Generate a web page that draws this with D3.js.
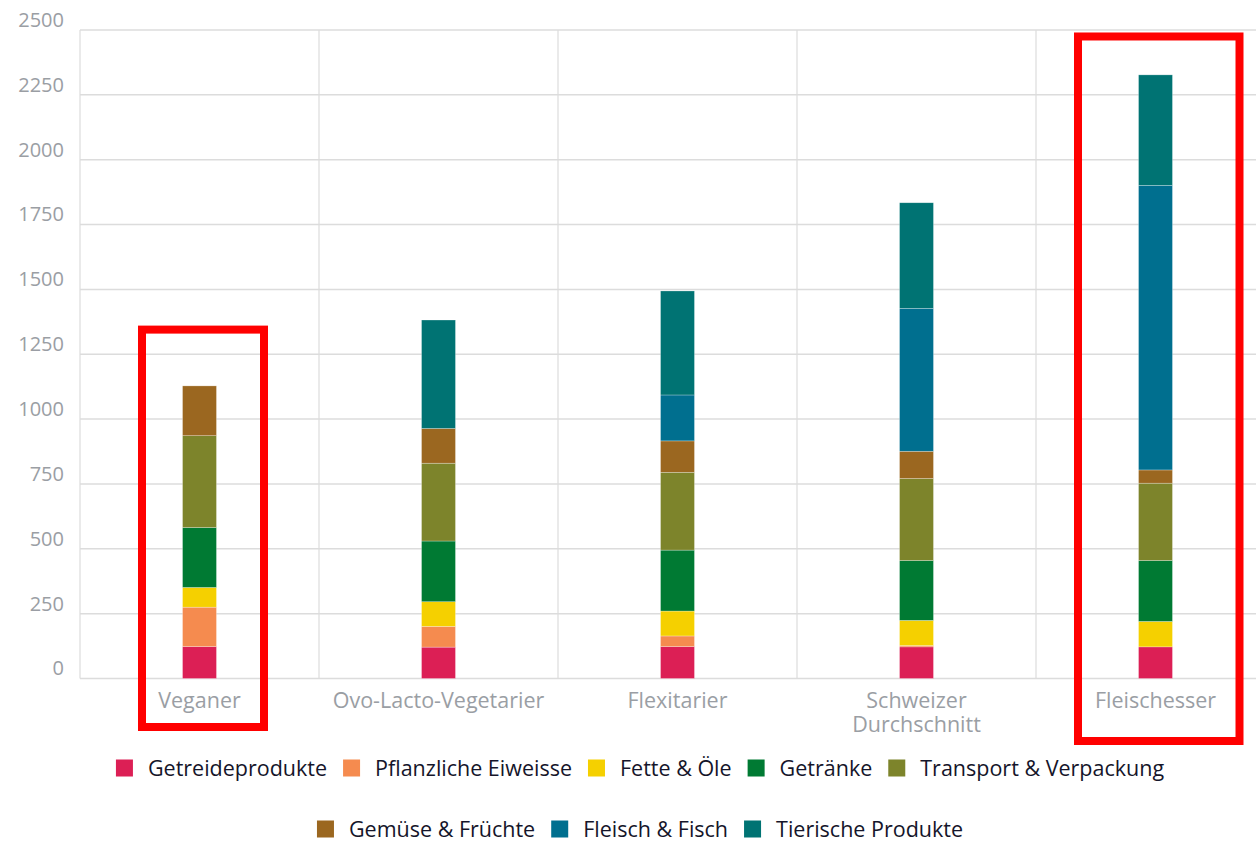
<!DOCTYPE html>
<html>
<head>
<meta charset="utf-8">
<script src="https://cdn.jsdelivr.net/npm/d3@7"></script>
<style>
  body { margin: 0; background: #fff; }
  text { font-family: "Open Sans", sans-serif; }
</style>
</head>
<body>
<script>
var categories  = ['Veganer', 'Ovo-Lacto-Vegetarier', 'Flexitarier', 'Schweizer Durchschnitt', 'Fleischesser'];
var seriesNames = ['Getreideprodukte', 'Pflanzliche Eiweisse', 'Fette & Öle', 'Getränke',
                   'Transport & Verpackung', 'Gemüse & Früchte', 'Fleisch & Fisch', 'Tierische Produkte'];
var colors      = ['#dc1f55', '#f58b4f', '#f5d000', '#007a33', '#7d842b', '#9b6720', '#006f8f', '#007373'];

// one array per series, same order as categories
var getreide    = [123, 121, 123, 122, 122];
var eiweisse    = [152,  80,  41,   5,   0];
var fette       = [ 76,  95,  96,  97,  98];
var getraenke   = [231, 234, 235, 231, 235];
var transport   = [354, 300, 300, 316, 298];
var gemuese     = [192, 134, 121, 105,  51];
var fleisch     = [  0,   0, 177, 551, 1097];
var tierisch    = [  0, 418, 401, 407, 426];
var yTicks      = [0, 250, 500, 750, 1000, 1250, 1500, 1750, 2000, 2250, 2500];

var series = [getreide, eiweisse, fette, getraenke, transport, gemuese, fleisch, tierisch];

var W = 1256, H = 843;
var svg = d3.select('body').append('svg')
            .attr('width', W)
            .attr('height', H);

var plotLeft = 80, plotRight = 1275, plotTop = 30, plotBottom = 678.5;

var x = d3.scaleBand().domain(categories).range([plotLeft, plotRight]).padding(0);
var y = d3.scaleLinear().domain([0, 2500]).range([plotBottom, plotTop]);
var barW = x.bandwidth() * 0.142;

// rows for the stack
var rows = categories.map(function(c, i){
  var r = {cat: c};
  seriesNames.forEach(function(s, j){ r[s] = series[j][i]; });
  return r;
});
var stacked = d3.stack().keys(seriesNames)(rows);

///////////////////////////////////////////////////////////////////////////////
/////////////////////////////      Grid + axis      ///////////////////////////
///////////////////////////////////////////////////////////////////////////////

var grid = svg.append('g');
grid.selectAll('line.h').data(yTicks).enter().append('line')
    .attr('x1', plotLeft).attr('x2', plotRight)
    .attr('y1', function(d){ return y(d); })
    .attr('y2', function(d){ return y(d); })
    .attr('stroke', '#dcdcdc').attr('stroke-width', 1.5);

var vlines = categories.map(function(c){ return x(c); }).concat([plotRight]);
grid.selectAll('line.v').data(vlines).enter().append('line')
    .attr('x1', function(d){ return d; }).attr('x2', function(d){ return d; })
    .attr('y1', plotTop).attr('y2', plotBottom)
    .attr('stroke', '#dcdcdc').attr('stroke-width', 1.2);

var yAxis = svg.append('g')
    .attr('transform', 'translate(' + (plotLeft - 16) + ',-10)')
    .call(d3.axisLeft(y).tickValues(yTicks).tickFormat(d3.format('d')).tickSize(0).tickPadding(0));
yAxis.select('.domain').remove();
yAxis.selectAll('text')
     .attr('fill', '#9a9ea4')
     .style('font-size', '20px')
     .style('font-family', '"Open Sans", sans-serif');

// category labels
var xl = svg.append('g').selectAll('text').data(categories).enter().append('text')
    .attr('x', function(d){ return x(d) + x.bandwidth() / 2; })
    .attr('y', 708)
    .attr('text-anchor', 'middle')
    .attr('fill', '#9a9ea4')
    .style('font-size', '21.5px');
xl.each(function(d){
  var words = d === 'Schweizer Durchschnitt' ? d.split(' ') : [d];
  var t = d3.select(this);
  words.forEach(function(w, i){
    t.append('tspan').attr('x', t.attr('x')).attr('dy', i ? 24 : 0).text(w);
  });
});

///////////////////////////////////////////////////////////////////////////////
/////////////////////////////      Bars      //////////////////////////////////
///////////////////////////////////////////////////////////////////////////////

var layers = svg.append('g').selectAll('g').data(stacked).enter().append('g')
    .attr('fill', function(d, i){ return colors[i]; });

layers.selectAll('rect').data(function(d){ return d; }).enter().append('rect')
    .filter(function(d){ return d[1] - d[0] > 0; })
    .attr('x', function(d){ return x(d.data.cat) + x.bandwidth() / 2 - barW / 2; })
    .attr('y', function(d){ return y(d[1]); })
    .attr('width', barW)
    .attr('height', function(d){ return y(d[0]) - y(d[1]); })
    .attr('stroke', 'rgba(255,255,255,0.45)')
    .attr('stroke-width', 0.6);

///////////////////////////////////////////////////////////////////////////////
/////////////////////////////      Highlight boxes      ///////////////////////
///////////////////////////////////////////////////////////////////////////////

// red boxes drawn round the two highlighted columns
var boxes = [
  {cat: 'Veganer',      dx0: -57.5, dx1: 64.5, topVal: 1345, bottomY: 727},
  {cat: 'Fleischesser', dx0: -77.5, dx1: 84,   topVal: 2475, bottomY: 741}
];
svg.append('g').selectAll('rect').data(boxes).enter().append('rect')
    .attr('x', function(d){ return x(d.cat) + x.bandwidth() / 2 + d.dx0; })
    .attr('y', function(d){ return y(d.topVal); })
    .attr('width', function(d){ return d.dx1 - d.dx0; })
    .attr('height', function(d){ return d.bottomY - y(d.topVal); })
    .attr('fill', 'none')
    .attr('stroke', '#ff0000')
    .attr('stroke-width', 8);

///////////////////////////////////////////////////////////////////////////////
/////////////////////////////      Legend      ////////////////////////////////
///////////////////////////////////////////////////////////////////////////////

var legendRows = [seriesNames.slice(0, 5), seriesNames.slice(5)];
var legendY = [768, 829];
var sq = 17, gapText = 15, gapItem = 16, cx = 640;

legendRows.forEach(function(row, r){
  var g = svg.append('g');
  var offset = 0;
  row.forEach(function(name){
    var idx = seriesNames.indexOf(name);
    var item = g.append('g').attr('transform', 'translate(' + offset + ',0)');
    item.append('rect')
        .attr('x', 0).attr('y', legendY[r] - sq / 2)
        .attr('width', sq).attr('height', sq)
        .attr('fill', colors[idx]);
    var t = item.append('text')
        .attr('x', sq + gapText).attr('y', legendY[r])
        .attr('dy', '0.35em')
        .attr('fill', '#15152a')
        .style('font-size', '21.5px')
        .text(name);
    offset += sq + gapText + t.node().getComputedTextLength() + gapItem;
  });
  var total = offset - gapItem;
  g.attr('transform', 'translate(' + (cx - total / 2) + ',0)');
});
</script>
</body>
</html>
